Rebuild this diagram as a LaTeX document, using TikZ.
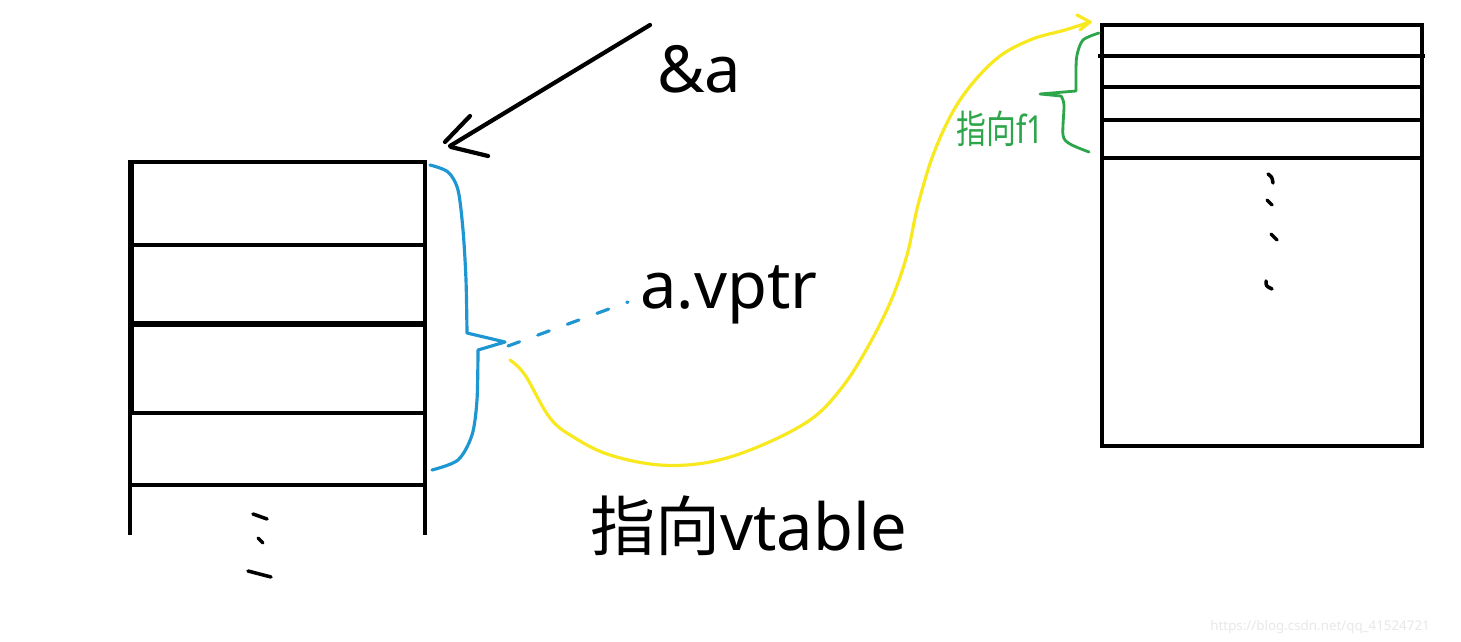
\documentclass[tikz,border=0pt]{standalone}
\usepackage{fontspec}
\setmainfont{Noto Sans}
\newfontfamily\cjk{Noto Sans CJK SC}
\usetikzlibrary{arrows.meta}
\definecolor{inkblue}{RGB}{30,150,210}
\definecolor{inkyellow}{RGB}{248,232,30}
\definecolor{inkgreen}{RGB}{45,165,75}
\tikzset{
  boxline/.style={line width=2.4pt, black},
  thickline/.style={line width=3.2pt, black},
  dotmark/.style={line width=2pt, line cap=round, black},
  bigtext/.style={inner sep=0pt, font=\fontsize{37}{40}\selectfont},
  smalltext/.style={inner sep=0pt, font=\fontsize{20}{22}\selectfont, text=inkgreen},
}
\begin{document}
\begin{tikzpicture}[x=0.02cm, y=-0.02cm]
\useasboundingbox (0,0) rectangle (1461,642);
\fill[white] (0,0) rectangle (1461,642);

% ---- left box (object a)
\draw[boxline] (130,535) -- (130,162) -- (425,162) -- (425,535);
\draw[thickline] (131,162) -- (131,413);
\draw[boxline] (130,245) -- (425,245);
\draw[thickline] (128,324) -- (425,324);
\draw[boxline] (130,413) -- (425,413);
\draw[boxline] (130,485) -- (425,485);
\draw[dotmark] (253,514) -- (267,519);
\draw[dotmark] (258,538) -- (263,543);
\draw[dotmark] (248,571) -- (271,577);
\coordinate (lefttop) at (450,146);

% ---- right box (vtable)
\draw[boxline] (1102,25) rectangle (1422,446);
\draw[boxline] (1098,56) -- (1425,56);
\draw[boxline] (1102,87) -- (1422,87);
\draw[boxline] (1102,120) -- (1422,120);
\draw[boxline] (1102,158) -- (1422,158);
\draw[dotmark] (1268,174) .. controls (1272,177) .. (1273,183);
\draw[dotmark] (1267,200) -- (1272,205);
\draw[dotmark] (1271,234) -- (1277,240);
\draw[dotmark] (1266,281) .. controls (1266,286) .. (1272,289);
\coordinate (vtabletop) at (1090,22);

% ---- labels
\node[bigtext, anchor=base west] (amp) at (657,92) {\&a};
\node[bigtext, anchor=base west] (vptr) at (640,308) {a.vptr};
\node[bigtext, anchor=base west] (tovt) at (590,550) {{\cjk 指向}vtable};
\node[smalltext, anchor=base west] (tof1) at (956,144) {\scalebox{0.85}[1.1]{{\cjk 指向}f1}};
\node[inner sep=0pt, anchor=base west, text=black!9, font=\fontsize{7.6}{9}\selectfont] (wm) at (1210,630) {https://blog.csdn.net/qq\_41524721};

% ---- black arrow &a -> object
\coordinate (arrstart) at (650,25);
\draw[line width=2.4pt, line cap=round] (arrstart) -- (lefttop);
\draw[line width=2.4pt, line cap=round] (445,142) -- (470,116);
\draw[line width=2.4pt, line cap=round] (451,147) -- (488,156);

% ---- blue brace
\coordinate (bracetip) at (505,342);
\draw[inkblue, line width=1.8pt, line cap=round, line join=round]
  plot[smooth, tension=0.5] coordinates {(430,165) (448,172) (458,190) (463,230) (466,280) (467,333)}
  -- (bracetip) -- (478,350)
  plot[smooth, tension=0.5] coordinates {(478,350) (477,400) (472,435) (458,460) (432,470)};
% blue dashed to a.vptr
\coordinate (vptrend) at (628,302);
\draw[inkblue, line width=1.8pt, line cap=round, dash pattern=on 7pt off 11pt] (508,346) -- (vptrend);

% ---- yellow curve to vtable
\coordinate (ystart) at (510,360);
\draw[inkyellow, line width=1.8pt, line cap=round, line join=round]
  plot[smooth, tension=0.6] coordinates {(ystart) (525,375) (550,418) (575,438) (610,455) (660,465) (710,462) (760,446) (810,420) (840,390) (865,352) (890,303) (907,255) (918,205) (935,150) (960,100) (995,60) (1030,40) (1065,30) (vtabletop)};
\draw[inkyellow, line width=1.8pt, line cap=round, line join=round] (1077,15) -- (vtabletop) -- (1080,30);

% ---- green brace
\coordinate (gtip) at (1040,94);
\draw[inkgreen, line width=1.6pt, line cap=round, line join=round]
  plot[smooth, tension=0.5] coordinates {(1099,33) (1083,40) (1077,55) (1076,70) (1076,91)}
  -- (gtip) -- (1061,96)
  plot[smooth, tension=0.5] coordinates {(1061,96) (1064,105) (1063,135) (1070,144) (1089,152)};
\end{tikzpicture}
\end{document}
